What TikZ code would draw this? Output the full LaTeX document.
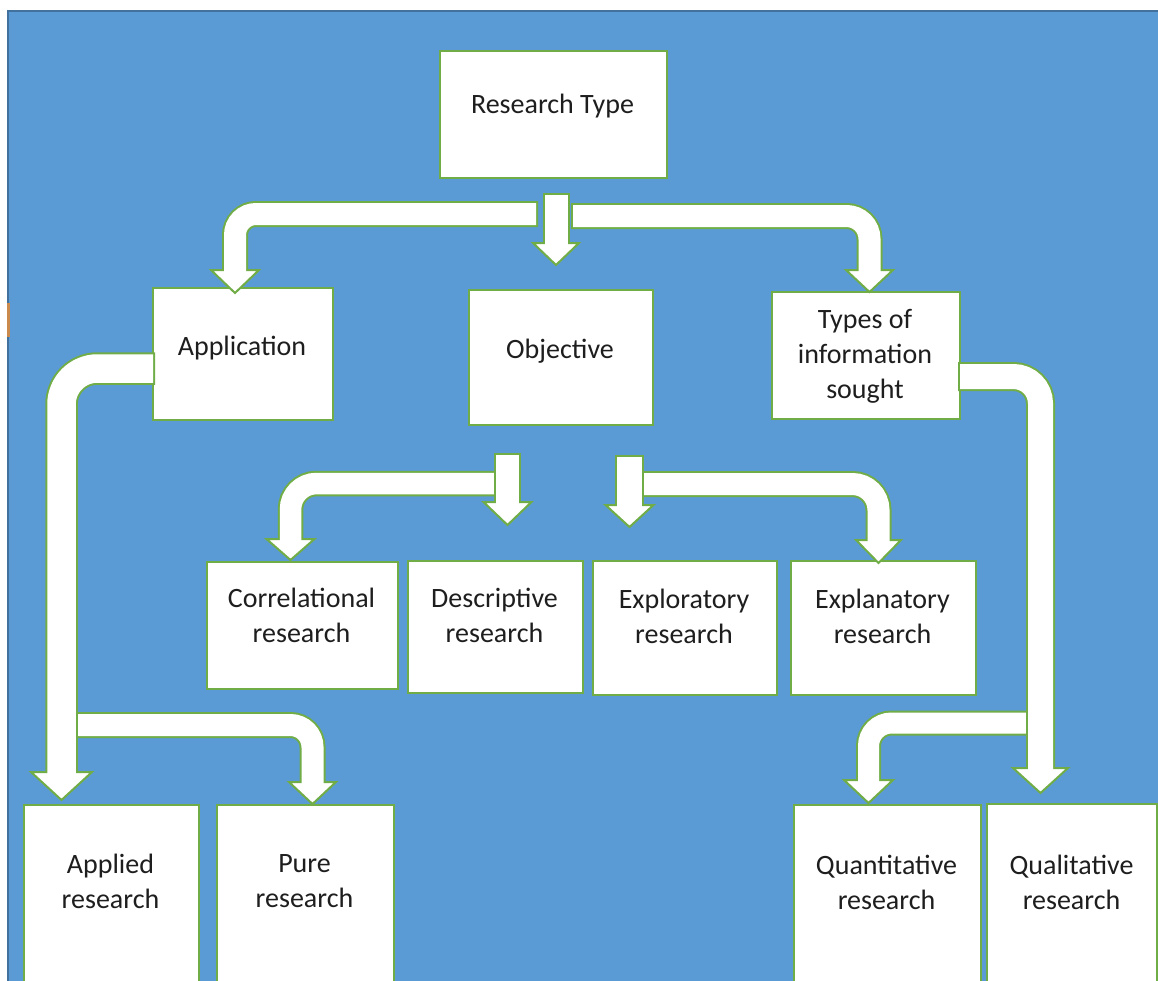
\documentclass[tikz,border=0pt]{standalone}
\usepackage{fontspec}
\setmainfont{Carlito}
\usetikzlibrary{calc}

\definecolor{bgblue}{HTML}{5B9BD5}
\definecolor{bgedge}{HTML}{41719C}
\definecolor{lgreen}{HTML}{70AD47}
\definecolor{txtc}{HTML}{1E1E1E}
\definecolor{orangemark}{HTML}{C98A4B}

\tikzset{
  box/.style={draw=lgreen, fill=white, line width=2pt, inner sep=0pt},
  lbl/.style={font=\fontsize{28}{35}\selectfont, text=txtc, align=center, inner sep=0pt},
  shaftline/.style={draw=lgreen, line cap=butt},
  shaftbody/.style={draw=white, line cap=butt},
  arrowhead/.style={fill=white, draw=lgreen, line width=2pt, line join=miter},
}

% White block arrow with a green outline, always ending in a downward head.
% #1 shaft width, #2 corner radius of the centre line, #3 start coordinate,
% #4 path operation (-- or -|), #5 tip coordinate, #6 half width of the head,
% #7 length of the head
\newcommand\blockarrow[7]{%
  \coordinate (hb) at ($(#5)+(0,-#7)$);
  \draw[shaftline, line width=#1pt+4pt, rounded corners=#2pt, shorten <=-2pt] (#3) #4 (hb);
  \draw[arrowhead] ($(hb)+(-#6,0)$) -- ($(hb)+(#6,0)$) -- (#5) -- cycle;
  \draw[shaftbody, line width=#1pt, rounded corners=#2pt] (#3) #4 ($(hb)+(0,3)$);
}

\begin{document}
\begin{tikzpicture}[x=1pt, y=-1pt]
  \useasboundingbox (0,0) rectangle (1158,980);
  \clip (0,0) rectangle (1158,980);

  % canvas
  \fill[white] (0,0) rectangle (1158,980);
  \fill[bgblue] (8,11) rectangle (1162,984);
  \draw[bgedge, line width=1.5pt] (8,984) -- (8,11) -- (1162,11);
  \fill[orangemark] (7,303) rectangle (10,337);

  % boxes
  \node[box, minimum width=227pt, minimum height=127pt] (rt)  at (553.5,114.5) {};
  \node[box, minimum width=180pt, minimum height=132pt] (app) at (243,354) {};
  \node[box, minimum width=184pt, minimum height=135pt] (obj) at (561,357.5) {};
  \node[box, minimum width=188pt, minimum height=127pt] (tis) at (866,355.5) {};
  \node[box, minimum width=191pt, minimum height=127pt] (cor) at (302.5,625.5) {};
  \node[box, minimum width=175pt, minimum height=132pt] (des) at (495.5,627) {};
  \node[box, minimum width=184pt, minimum height=134pt] (exo) at (685,628) {};
  \node[box, minimum width=185pt, minimum height=134pt] (exa) at (883.5,628) {};
  \node[box, minimum width=175pt, minimum height=195pt] (apl) at (111.5,902.5) {};
  \node[box, minimum width=177pt, minimum height=195pt] (pur) at (305.5,902.5) {};
  \node[box, minimum width=187pt, minimum height=195pt] (qnt) at (887.5,902.5) {};
  \node[box, minimum width=170pt, minimum height=196pt] (qlt) at (1072,902) {};

  % labels
  \node[lbl] (rt-l)  at (552.5,106.5) {Research Type};
  \node[lbl] (app-l) at (242,348.5) {Application};
  \node[lbl] (obj-l) at (560,351.5) {Objective};
  \node[lbl] (tis-l) at (865,356) {Types of\\information\\sought};
  \node[lbl] (cor-l) at (301.5,615) {Correlational\\research};
  \node[lbl] (des-l) at (494.5,615) {Descriptive\\research};
  \node[lbl] (exo-l) at (684,616) {Exploratory\\research};
  \node[lbl] (exa-l) at (882.5,616) {Explanatory\\research};
  \node[lbl] (apl-l) at (110.5,881) {Applied\\research};
  \node[lbl] (pur-l) at (304.5,881.5) {Pure\\research};
  \node[lbl] (qnt-l) at (886.5,882) {Quantitative\\research};
  \node[lbl] (qlt-l) at (1071.5,882) {Qualitative\\research};

  % arrow ends
  \coordinate (s-rt-app) at (536,214);    \coordinate (t-app) at (235,293);
  \coordinate (s-rt-obj) at (556,195);    \coordinate (t-obj) at (556,265);
  \coordinate (s-rt-tis) at (573,216);    \coordinate (t-tis) at (869.5,292);
  \coordinate (s-app-apl) at (153,368.5); \coordinate (t-apl) at (61.5,800);
  \coordinate (s-app-pur) at (61.5,725);  \coordinate (t-pur) at (312.5,804);
  \coordinate (s-tis-qlt) at (960,376.5); \coordinate (t-qlt) at (1040.5,793);
  \coordinate (s-tis-qnt) at (1040.5,723);\coordinate (t-qnt) at (868.5,803);
  \coordinate (s-obj-des) at (507.5,455); \coordinate (t-des) at (507.5,525);
  \coordinate (s-obj-cor) at (507.5,483.5);\coordinate (t-cor) at (290.5,560);
  \coordinate (s-obj-exo) at (629.5,457); \coordinate (t-exo) at (629.5,527);
  \coordinate (s-obj-exa) at (629.5,484); \coordinate (t-exa) at (878.5,563);

  % Research Type -> Application, Objective, Types of information sought
  \blockarrow{22}{21}{s-rt-app}{-|}{t-app}{24}{23}
  \blockarrow{23}{0}{s-rt-obj}{--}{t-obj}{23}{22}
  \blockarrow{22}{23}{s-rt-tis}{-|}{t-tis}{23.5}{22}

  % Application -> Pure / Applied research (branch first, trunk on top)
  \blockarrow{22}{22}{s-app-pur}{-|}{t-pur}{23.5}{22}
  \blockarrow{28.5}{36}{s-app-apl}{-|}{t-apl}{30.5}{28}

  % Types of information sought -> Quantitative / Qualitative research
  \blockarrow{21}{23}{s-tis-qnt}{-|}{t-qnt}{24.5}{23}
  \blockarrow{25}{27}{s-tis-qlt}{-|}{t-qlt}{27.5}{25}

  % Objective -> Correlational / Descriptive research
  \blockarrow{21.5}{26}{s-obj-cor}{-|}{t-cor}{24}{21}
  \blockarrow{23}{0}{s-obj-des}{--}{t-des}{24}{23}

  % Objective -> Explanatory / Exploratory research
  \blockarrow{22}{26}{s-obj-exa}{-|}{t-exa}{22.5}{23}
  \blockarrow{25}{0}{s-obj-exo}{--}{t-exo}{24}{22}
\end{tikzpicture}
\end{document}
